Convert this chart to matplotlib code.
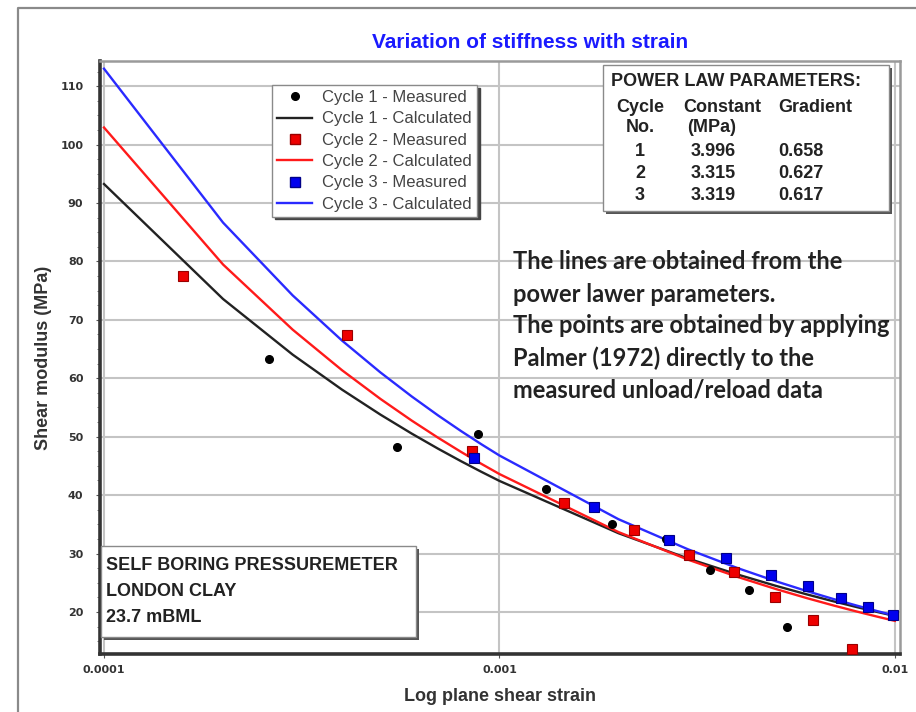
import numpy as np
import matplotlib
matplotlib.use("Agg")
import matplotlib.pyplot as plt
from matplotlib.lines import Line2D
from matplotlib.patches import Rectangle
from matplotlib.ticker import FixedLocator, NullLocator, MultipleLocator

plt.rcParams['font.family'] = ['Liberation Sans', 'DejaVu Sans']

# Power law parameters (G = constant * strain^(gradient - 1))
cycles = [1, 2, 3]
constants = [3.996, 3.315, 3.319]
gradients = [0.658, 0.627, 0.617]

# Strain values at which the calculated curves are evaluated
calc_strain = [1e-4, 2e-4, 3e-4, 4e-4, 5e-4, 6e-4, 7e-4, 8e-4, 9e-4,
               1e-3, 2e-3, 3e-3, 4e-3, 5e-3, 6e-3, 7e-3, 8e-3, 9e-3, 1e-2]

# Measured points (Palmer 1972 applied to unload/reload loops)
c1_strain = [2.61e-4, 5.5e-4, 8.8e-4, 1.31e-3, 1.93e-3, 2.63e-3, 3.41e-3, 4.28e-3, 5.34e-3]
c1_modulus = [63.3, 48.3, 50.4, 41.0, 35.0, 32.5, 27.2, 23.8, 17.4]

c2_strain = [1.58e-4, 4.11e-4, 8.5e-4, 1.46e-3, 2.19e-3, 3.02e-3, 3.92e-3, 4.98e-3, 6.21e-3, 7.77e-3]
c2_modulus = [77.5, 67.4, 47.5, 38.6, 34.0, 29.7, 26.8, 22.6, 18.6, 13.7]

c3_strain = [8.6e-4, 1.73e-3, 2.69e-3, 3.74e-3, 4.86e-3, 6.03e-3, 7.31e-3, 8.55e-3, 9.9e-3]
c3_modulus = [46.3, 37.9, 32.3, 29.2, 26.3, 24.4, 22.4, 20.9, 19.5]

x_ticks = [1e-4, 1e-3, 1e-2]
x_tick_labels = ["0.0001", "0.001", "0.01"]
y_ticks = [20, 30, 40, 50, 60, 70, 80, 90, 100, 110]

W, H = 916, 712
fig = plt.figure(figsize=(W / 100, H / 100), dpi=100)


def fx(x):
    return x / W


def fy(y):
    return 1 - y / H


# outer page frame
fig.add_artist(Line2D([fx(18), fx(18), fx(916)], [fy(712), fy(8), fy(8)],
                      transform=fig.transFigure, color='#8a8a8a', lw=1.6))

ax = fig.add_axes([fx(100), fy(654), (900 - 100) / W, (654 - 61) / H])

line_colors = ['#222222', '#ff1a1a', '#2a2aff']
calc_strain_arr = np.array(calc_strain)
calc_curves = [c * calc_strain_arr ** (g - 1) for c, g in zip(constants, gradients)]

for curve, col in zip(calc_curves, line_colors):
    ax.plot(calc_strain_arr, curve, color=col, lw=1.7, zorder=3)

ax.plot(c1_strain, c1_modulus, 'o', color='black', ms=5.5, zorder=4)
ax.plot(c2_strain, c2_modulus, 's', color='#ee0000', mec='#990000', mew=0.8, ms=7, zorder=4)
ax.plot(c3_strain, c3_modulus, 's', color='#0000ee', mec='#000088', mew=0.8, ms=7, zorder=5)

ax.set_xscale('log')
ax.set_xlim(0.977e-4, 1.03e-2)
ax.set_ylim(12.8, 114.3)

ax.xaxis.set_major_locator(FixedLocator(x_ticks))
ax.set_xticklabels(x_tick_labels)
ax.xaxis.set_minor_locator(NullLocator())
ax.yaxis.set_major_locator(FixedLocator(y_ticks))
ax.yaxis.set_minor_locator(MultipleLocator(2.5))

ax.grid(True, which='major', color='#c4c4c4', lw=1.5, zorder=0)
ax.set_axisbelow(True)

ax.tick_params(axis='both', which='major', labelsize=8, labelcolor='#333333',
               color='#555555', length=3, width=0.8)
ax.tick_params(axis='y', which='minor', length=2, width=0.7, color='#777777')
ax.tick_params(axis='x', which='major', pad=5)
ax.tick_params(axis='y', which='major', pad=9)
for lab in ax.get_xticklabels() + ax.get_yticklabels():
    lab.set_fontweight('bold')
    lab.set_family(['DejaVu Sans'])

for side in ['left', 'bottom']:
    ax.spines[side].set_color('#333333')
    ax.spines[side].set_linewidth(2.6)
for side in ['top', 'right']:
    ax.spines[side].set_color('#9a9a9a')
    ax.spines[side].set_linewidth(1.8)

ax.set_xlabel('Log plane shear strain', fontsize=13, fontweight='bold',
              color='#333333', labelpad=9)
ax.set_ylabel('Shear modulus (MPa)', fontsize=13, fontweight='bold',
              color='#333333', labelpad=6)

fig.text(fx(530), fy(42), 'Variation of stiffness with strain', color='#1a1aff',
         fontsize=15, fontweight='bold', ha='center', va='center')

# legend
handles = [
    Line2D([], [], ls='none', marker='o', color='black', ms=5.5),
    Line2D([], [], color=line_colors[0], lw=1.7),
    Line2D([], [], ls='none', marker='s', color='#ee0000', mec='#990000', ms=7),
    Line2D([], [], color=line_colors[1], lw=1.7),
    Line2D([], [], ls='none', marker='s', color='#0000ee', mec='#000088', ms=7),
    Line2D([], [], color=line_colors[2], lw=1.7),
]
labels = ['Cycle 1 - Measured', 'Cycle 1 - Calculated',
          'Cycle 2 - Measured', 'Cycle 2 - Calculated',
          'Cycle 3 - Measured', 'Cycle 3 - Calculated']
leg = ax.legend(handles, labels, loc='upper left',
                bbox_to_anchor=((272 - 100) / 800, (654 - 85) / 593),
                fontsize=12, labelspacing=0.38, handlelength=2.1,
                handletextpad=0.6, borderpad=0.3, borderaxespad=0,
                fancybox=False, framealpha=1, edgecolor='#8a8a8a',
                shadow={'color': '#444444', 'alpha': 1.0})
leg.get_frame().set_linewidth(1.0)
for t in leg.get_texts():
    t.set_color('#444444')
leg.set_zorder(6)


def boxed(x0, y0, x1, y1):
    fig.add_artist(Rectangle((fx(x0 + 3), fy(y1 + 3)), (x1 - x0) / W, (y1 - y0) / H,
                             transform=fig.transFigure, facecolor='#555555',
                             edgecolor='none', zorder=7))
    fig.add_artist(Rectangle((fx(x0), fy(y1)), (x1 - x0) / W, (y1 - y0) / H,
                             transform=fig.transFigure, facecolor='white',
                             edgecolor='#8a8a8a', lw=1.0, zorder=8))


# power law parameter table
boxed(603, 65, 889, 211)
tkw = dict(transform=fig.transFigure, fontsize=13, fontweight='bold',
           color='#222222', zorder=9, va='center')
fig.text(fx(611), fy(82), 'POWER LAW PARAMETERS:', ha='left', **tkw)
fig.text(fx(640), fy(108), 'Cycle', ha='center', **tkw)
fig.text(fx(640), fy(127), 'No.', ha='center', **tkw)
fig.text(fx(683), fy(108), 'Constant', ha='left', **tkw)
fig.text(fx(712), fy(127), '(MPa)', ha='center', **tkw)
fig.text(fx(778), fy(108), 'Gradient', ha='left', **tkw)
for i, (cy, c, g) in enumerate(zip(cycles, constants, gradients)):
    yy = 152 + i * 21.5
    fig.text(fx(640), fy(yy), str(cy), ha='center', **tkw)
    fig.text(fx(713), fy(yy), f'{c:.3f}', ha='center', **tkw)
    fig.text(fx(778), fy(yy), f'{g:.3f}', ha='left', **tkw)

# site description box
boxed(101, 546, 416, 637)
skw = dict(transform=fig.transFigure, fontsize=13, fontweight='bold',
           color='#222222', zorder=9, va='center', ha='left')
fig.text(fx(106), fy(566), 'SELF BORING PRESSUREMETER', **skw)
fig.text(fx(106), fy(592), 'LONDON CLAY', **skw)
fig.text(fx(106), fy(618), '23.7 mBML', **skw)

# explanatory note
note = ['The lines are obtained from the',
        'power lawer parameters.',
        'The points are obtained by applying',
        'Palmer (1972) directly to the',
        'measured unload/reload data']
for i, line in enumerate(note):
    fig.text(fx(513), fy(262 + i * 32), line, fontsize=17, fontweight='bold',
             family=['Lato', 'DejaVu Sans'], color='#222222', ha='left',
             va='center', zorder=9)

fig.savefig('out.png', dpi=100, facecolor='white')
